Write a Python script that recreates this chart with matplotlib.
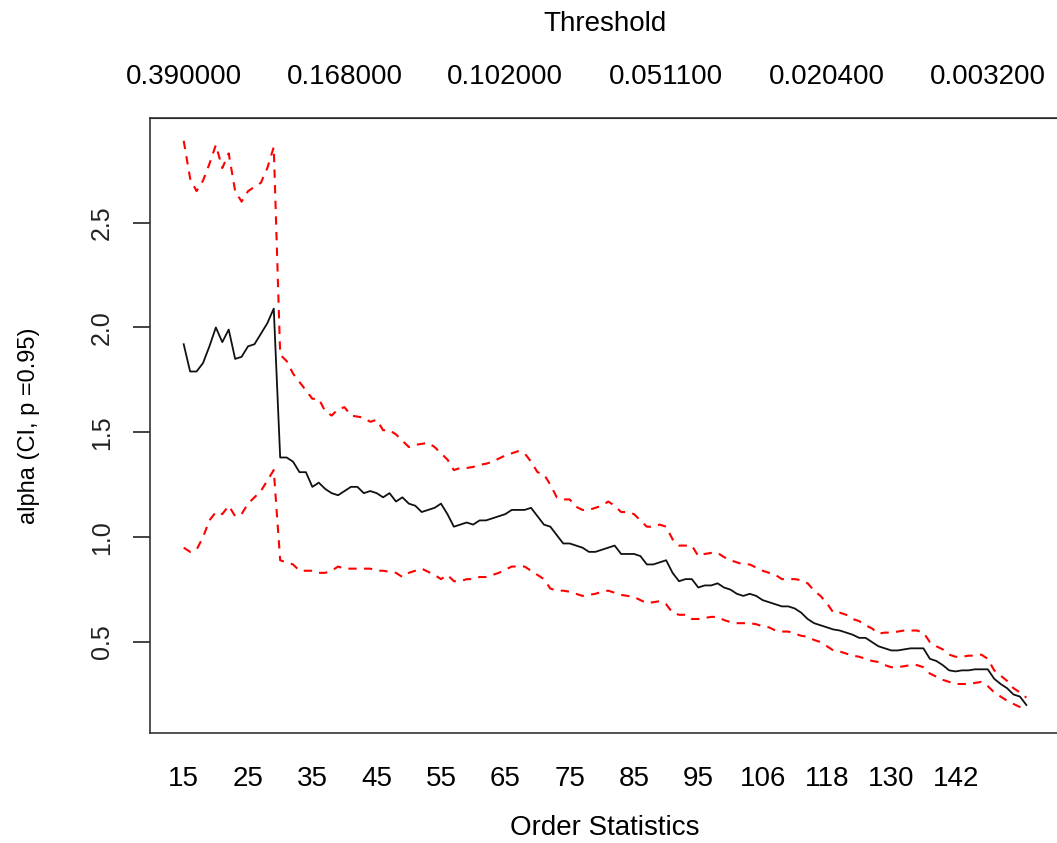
"""
Hill plot of alpha with 95% confidence bands
"""

import numpy as np
import matplotlib.pyplot as plt

# Hill estimate of alpha, one value per order statistic
alpha = [1.92, 1.79, 1.79, 1.83, 1.91, 2.00, 1.93, 1.99, 1.85, 1.86, 1.91, 1.92, 1.97, 2.02, 2.09,
         1.38, 1.38, 1.36, 1.31, 1.31, 1.24, 1.26, 1.23, 1.21, 1.20, 1.22, 1.24, 1.24, 1.21, 1.22,
         1.21, 1.19, 1.21, 1.17, 1.19, 1.16, 1.15, 1.12, 1.13, 1.14, 1.16, 1.11, 1.05,
         1.06, 1.07, 1.06, 1.08, 1.08, 1.09, 1.10, 1.11, 1.13, 1.13, 1.13, 1.14, 1.10, 1.06, 1.05,
         1.01, 0.97, 0.97, 0.96, 0.95, 0.93, 0.93, 0.94, 0.95, 0.96, 0.92, 0.92, 0.92, 0.91,
         0.87, 0.87, 0.88, 0.89, 0.83, 0.79, 0.80, 0.80, 0.76, 0.77, 0.77, 0.78, 0.76, 0.75, 0.73,
         0.72, 0.73, 0.72, 0.70, 0.69, 0.68, 0.67, 0.67, 0.66, 0.64, 0.61, 0.59, 0.58, 0.57, 0.56,
         0.555, 0.545, 0.535, 0.52, 0.52, 0.50, 0.48, 0.47, 0.46, 0.46, 0.465, 0.47, 0.47, 0.47, 0.42,
         0.41, 0.39, 0.365, 0.36, 0.365, 0.365, 0.37, 0.37, 0.37, 0.325, 0.30, 0.28, 0.25, 0.24, 0.20]

ci_upper = [2.89, 2.71, 2.65, 2.70, 2.78, 2.87, 2.76, 2.83, 2.65, 2.60, 2.65, 2.67, 2.69, 2.76, 2.86,
            1.87, 1.84, 1.78, 1.74, 1.70, 1.66, 1.66, 1.60, 1.58, 1.61, 1.62, 1.58, 1.575, 1.57, 1.55,
            1.56, 1.51, 1.51, 1.49, 1.46, 1.43, 1.44, 1.445, 1.45, 1.43, 1.40, 1.37, 1.32,
            1.33, 1.33, 1.335, 1.345, 1.35, 1.36, 1.375, 1.39, 1.40, 1.41, 1.40, 1.36, 1.31, 1.30, 1.25,
            1.19, 1.18, 1.18, 1.145, 1.13, 1.13, 1.14, 1.15, 1.17, 1.15, 1.12, 1.12, 1.11, 1.08,
            1.05, 1.05, 1.06, 1.05, 0.99, 0.96, 0.96, 0.96, 0.91, 0.92, 0.925, 0.925, 0.905, 0.89, 0.88,
            0.87, 0.87, 0.855, 0.84, 0.83, 0.82, 0.80, 0.80, 0.80, 0.795, 0.78, 0.745, 0.72, 0.685, 0.64,
            0.64, 0.63, 0.61, 0.60, 0.58, 0.565, 0.54, 0.545, 0.545, 0.55, 0.555, 0.555, 0.555, 0.545, 0.50,
            0.48, 0.465, 0.44, 0.43, 0.43, 0.435, 0.435, 0.44, 0.42, 0.365, 0.34, 0.315, 0.28, 0.26, 0.235]

ci_lower = [0.95, 0.93, 0.94, 1.00, 1.08, 1.12, 1.11, 1.15, 1.10, 1.11, 1.16, 1.19, 1.22, 1.27, 1.32,
            0.89, 0.88, 0.87, 0.84, 0.84, 0.84, 0.83, 0.83, 0.84, 0.86, 0.85, 0.85, 0.85, 0.85, 0.85,
            0.84, 0.84, 0.835, 0.83, 0.81, 0.83, 0.84, 0.85, 0.835, 0.82, 0.80, 0.82, 0.79,
            0.79, 0.80, 0.80, 0.81, 0.81, 0.82, 0.83, 0.845, 0.86, 0.86, 0.86, 0.84, 0.82, 0.80, 0.755,
            0.745, 0.745, 0.74, 0.73, 0.72, 0.725, 0.73, 0.74, 0.745, 0.735, 0.725, 0.72, 0.715, 0.70,
            0.685, 0.69, 0.695, 0.68, 0.64, 0.63, 0.63, 0.61, 0.61, 0.615, 0.62, 0.62, 0.605, 0.595, 0.59,
            0.59, 0.59, 0.585, 0.575, 0.57, 0.555, 0.55, 0.55, 0.54, 0.53, 0.525, 0.51, 0.50, 0.48, 0.46,
            0.455, 0.445, 0.435, 0.43, 0.42, 0.41, 0.405, 0.39, 0.38, 0.38, 0.385, 0.39, 0.39, 0.38, 0.35,
            0.335, 0.32, 0.31, 0.30, 0.30, 0.30, 0.305, 0.31, 0.29, 0.26, 0.24, 0.22, 0.205, 0.19, 0.175]

# Axis labels
order_labels = ['15', '25', '35', '45', '55', '65', '75', '85', '95', '106', '118', '130', '142']
threshold_labels = ['0.390000', '0.168000', '0.102000', '0.051100', '0.020400', '0.003200']


def plot_hill():
    plt.rcParams['font.family'] = ['Liberation Sans', 'DejaVu Sans']

    idx = np.arange(len(alpha))

    fig = plt.figure(figsize=(10.57, 8.43), dpi=100)
    ax = fig.add_axes([0.1419, 0.1305, 0.861, 0.7295])

    ax.plot(idx, alpha, color='#111111', linewidth=1.3)
    ax.plot(idx, ci_upper, color='red', linewidth=1.5, linestyle=(0, (4, 3.5)))
    ax.plot(idx, ci_lower, color='red', linewidth=1.5, linestyle=(0, (4, 3.5)))

    # R style 4% padding
    lo = min(ci_lower)
    hi = max(ci_upper)
    ax.set_ylim(lo - 0.04 * (hi - lo), hi + 0.04 * (hi - lo))
    n = len(alpha) - 1
    ax.set_xlim(-0.04 * n, n * 1.04)

    ax.set_yticks([0.5, 1.0, 1.5, 2.0, 2.5])
    ax.set_yticklabels(['0.5', '1.0', '1.5', '2.0', '2.5'], rotation=90, va='center')
    ax.tick_params(axis='y', length=12, width=1.2, pad=14, labelsize=18, colors='#222222')

    ax.set_xticks(np.arange(len(order_labels)) * 10)
    ax.set_xticklabels(order_labels)
    ax.tick_params(axis='x', length=0, pad=24, labelsize=20)

    top = ax.secondary_xaxis('top')
    top.set_xticks(np.arange(len(threshold_labels)) * 25)
    top.set_xticklabels(threshold_labels)
    top.tick_params(axis='x', length=0, pad=20, labelsize=20)
    top.set_xlabel('Threshold', fontsize=20, labelpad=24)

    ax.set_xlabel('Order Statistics', fontsize=20, labelpad=16)
    ax.set_ylabel('alpha (CI, p =0.95)', fontsize=17, labelpad=36)

    for s in ax.spines.values():
        s.set_linewidth(1.2)
        s.set_color('#333333')

    fig.savefig('out.png', dpi=100)


if __name__ == "__main__":
    plot_hill()
